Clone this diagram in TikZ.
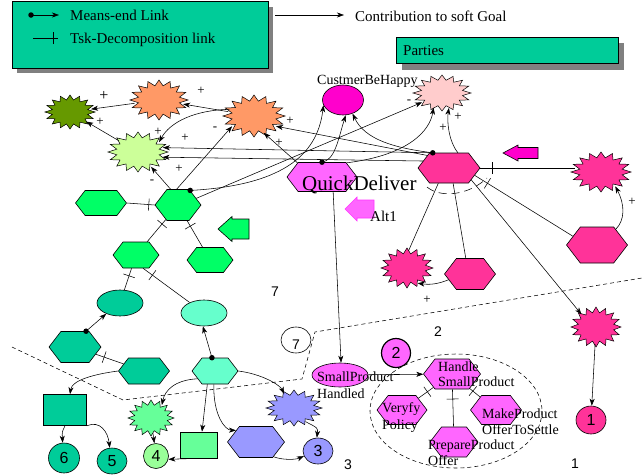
\documentclass[tikz,border=0pt]{standalone}
\usepackage{fontspec}
\setmainfont{Liberation Serif}
\newfontfamily\numfont{Liberation Sans}
\usetikzlibrary{shapes.geometric,shapes.symbols,arrows.meta,decorations.markings}

\definecolor{cTeal}{HTML}{00CC99}
\definecolor{cShadow}{HTML}{808080}
\definecolor{cOlive}{HTML}{669900}
\definecolor{cOrange}{HTML}{FF9966}
\definecolor{cPale}{HTML}{CCFF99}
\definecolor{cGreen}{HTML}{00FF66}
\definecolor{cMag}{HTML}{FF00CC}
\definecolor{cRose}{HTML}{FFCCCC}
\definecolor{cOrchid}{HTML}{FF66FF}
\definecolor{cOrchidLine}{HTML}{FF33FF}
\definecolor{cHot}{HTML}{FF3399}
\definecolor{cAqua}{HTML}{66FFCC}
\definecolor{cMint}{HTML}{66FF99}
\definecolor{cLime}{HTML}{99FF99}
\definecolor{cBlue}{HTML}{9999FF}

\tikzset{
  hexa/.style={signal, signal to=east and west, signal pointer angle=105,
    draw, inner sep=0pt, line width=0.6pt},
  oval/.style={ellipse, draw, inner sep=0pt, line width=0.6pt},
  box/.style={rectangle, draw, inner sep=0pt, line width=0.6pt},
  conn/.style={line width=0.55pt},
  contrib/.style={conn, -{Stealth[length=7pt,width=5pt,inset=2pt]}},
  decomp/.style={conn, postaction={decorate, decoration={markings,
    mark=at position #1 with {\draw[conn] (0,-6pt) -- (0,6pt);}}}},
  decomp/.default=0.5,
  medot/.style={circle, fill=black, inner sep=0pt, minimum size=5.5pt},
  txt/.style={font=\fontsize{14}{14}\selectfont, inner sep=0pt, anchor=base west},
  lbl/.style={font=\fontsize{13}{13}\selectfont, inner sep=0pt},
  digit/.style={font=\numfont\fontsize{16}{16}\selectfont},
  freedigit/.style={font=\numfont\fontsize{14}{14}\selectfont, inner sep=0pt},
  boundary/.style={line width=0.55pt, dash pattern=on 4pt off 3pt},
}

% starburst soft goal: name, x, y, x-radius, y-radius, fill colour
\newcommand\burst[6]{%
  \begin{scope}[shift={(#2,#3)}]
    \draw[fill=#6, line width=0.5pt] (0:#4 and #5)
      \foreach \k in {0,...,15}{ -- ({\k*22.5+11.25}:0.72*#4 and 0.72*#5)
                                 -- ({\k*22.5+22.5}:#4 and #5)} -- cycle;
  \end{scope}
  \node[ellipse, inner sep=0pt, minimum width=1.7pt*#4, minimum height=1.7pt*#5] (#1) at (#2,#3) {};
}
% task hexagon: name, x, y, width, height, fill colour
\newcommand\hexnode[6]{%
  \node[hexa, minimum width=#4pt, minimum height=#5pt, fill=#6] (#1) at (#2,#3) {};
}
% left-pointing block arrow: tip x, tip y, head length, head half-height, shaft half-height, total length, fill, draw
\newcommand\leftblock[8]{%
  \draw[fill=#7, draw=#8, line width=0.6pt] (#1,#2) -- ++(#3,-#4) -- ++(0,#4-#5) -- (#1+#6,#2-#5)
    -- (#1+#6,#2+#5) -- (#1+#3,#2+#5) -- (#1+#3,#2+#4) -- cycle;
}

\begin{document}
\begin{tikzpicture}[x=1pt,y=-1pt]
\fill[white] (0,0) rectangle (642,474);
\useasboundingbox (0,0) rectangle (642,474);

% ---------- legend ----------
\fill[cShadow] (17,7) rectangle (273,73);
\node[box, fill=cTeal, minimum width=256pt, minimum height=67pt, anchor=north west] (legend) at (12,1) {};
\node[medot] (ld) at (31,15) {};
\coordinate (le) at (59,15);
\draw[contrib] (ld.center) -- (le);
\node[txt, font=\fontsize{15}{15}\selectfont] (lt1) at (70,20) {Means-end Link};
\coordinate (lda) at (33,38);
\coordinate (ldb) at (58,38);
\draw[decomp=0.8] (lda) -- (ldb);
\node[txt, font=\fontsize{15}{15}\selectfont] (lt2) at (70,43) {Tsk-Decomposition link};

\coordinate (ca) at (275,15);
\coordinate (cb) at (344,15);
\draw[contrib] (ca) -- (cb);
\node[txt, font=\fontsize{15}{15}\selectfont] (lt3) at (355,21) {Contribution to soft Goal};

\fill[cShadow] (402,43) rectangle (624,70);
\node[box, fill=cTeal, minimum width=222pt, minimum height=26pt, anchor=north west] (parties) at (396,37) {};
\node[txt, font=\fontsize{15}{15}\selectfont] (ptext) at (403,55) {Parties};

% ---------- boundaries ----------
\draw[boundary] (12,347) -- (123,400) -- (302,379) -- (315,332) -- (642,278);
\draw[boundary] (456,411) ellipse [x radius=86, y radius=57];

% ---------- soft goals ----------
\burst{dg}{70}{112}{25}{17}{cOlive}
\burst{org1}{159}{100}{29}{20}{cOrange}
\burst{org2}{254}{116}{31}{21}{cOrange}
\burst{lg}{138}{152}{30}{20}{cPale}
\burst{pk}{442}{93}{29}{18}{cRose}
\burst{hp1}{601}{172}{30}{20}{cHot}
\burst{hp2}{407}{268}{26}{20}{cHot}
\burst{hp3}{596}{327}{25}{20}{cHot}
\burst{gs}{151}{418}{23}{18}{cMint}
\burst{bs}{294}{408}{28}{18}{cBlue}

% ---------- goals / resources ----------
\node[oval, fill=cMag, minimum width=41pt, minimum height=30pt] (cbh) at (343,100) {};
\node[txt] (cbht) at (317,84) {CustmerBeHappy};
\node[oval, fill=cTeal, minimum width=46pt, minimum height=26pt] (te1) at (120,303) {};
\node[oval, fill=cAqua, minimum width=46pt, minimum height=26pt] (te2) at (204,313) {};
\node[oval, fill=cOrchid, minimum width=56pt, minimum height=24pt] (sph) at (340,375) {};
\node[box, fill=cTeal, minimum width=43pt, minimum height=31pt] (tsq) at (65,410) {};
\node[box, fill=cMint, minimum width=37pt, minimum height=26pt] (lgr) at (199,445) {};

% ---------- tasks ----------
\hexnode{gh0}{101}{203}{51}{25}{cGreen}
\hexnode{gh1}{178}{205}{46}{31}{cGreen}
\hexnode{gh2}{136}{255}{46}{26}{cGreen}
\hexnode{gh3}{210}{260}{46}{25}{cGreen}
\hexnode{th1}{75}{347}{52}{31}{cTeal}
\hexnode{th2}{144}{371}{51}{26}{cTeal}
\hexnode{lth}{215}{371}{46}{26}{cAqua}
\hexnode{bh}{256}{442}{57}{31}{cBlue}
\hexnode{qd}{322}{177}{70}{29}{cOrchid}
\hexnode{ph}{449}{168}{62}{30}{cHot}
\hexnode{ph2}{597}{245}{61}{36}{cHot}
\hexnode{ph3}{470}{274}{51}{31}{cHot}
\hexnode{hs}{452}{374}{57}{30}{cOrchid}
\hexnode{vp}{402}{410}{50}{29}{cOrchid}
\hexnode{mp}{496}{410}{51}{29}{cOrchid}
\hexnode{pp}{454}{442}{48}{30}{cOrchid}

% ---------- numbered circles ----------
\node[oval, digit, fill=cTeal, minimum width=31pt, minimum height=30pt] (c6) at (64,458) {6};
\node[oval, digit, fill=cTeal, minimum width=30pt, minimum height=26pt] (c5) at (112,461) {5};
\node[oval, digit, fill=cLime, minimum width=25pt, minimum height=25pt] (c4) at (156,456) {4};
\node[oval, digit, fill=cBlue, minimum width=30pt, minimum height=26pt] (c3) at (318,451) {3};
\node[oval, fill=white, minimum width=30pt, minimum height=26pt] (c7) at (296,340) {};
\node[freedigit] (c7t) at (296,345) {7};
\node[oval, digit, fill=cOrchid, line width=1.2pt, minimum width=29pt, minimum height=29pt] (c2) at (396,353) {2};
\node[oval, digit, fill=cHot, minimum width=30pt, minimum height=28pt] (c1) at (591,420) {1};

\node[freedigit] (n7) at (275,292) {7};
\node[freedigit] (n2) at (438,332) {2};
\node[freedigit] (n3) at (348,465) {3};
\node[freedigit] (n1) at (575,464) {1};

% ---------- alternative markers ----------
\leftblock{218}{229}{14}{12.5}{10}{31}{cGreen}{black}
\leftblock{345}{209}{12}{12}{9}{29}{cOrchid}{cOrchidLine}
\leftblock{503}{153}{15}{8}{5.5}{35}{cMag}{black}

% ---------- texts ----------
\node[txt, font=\fontsize{21}{21}\selectfont] (qdt) at (302,190) {QuickDeliver};
\node[txt, font=\fontsize{15}{15}\selectfont] (alt) at (370,221) {Alt1};
\node[txt] (spt1) at (317,381) {SmallProduct};
\node[txt] (spt2) at (317,398) {Handled};
\node[txt] (hst1) at (438,371) {Handle};
\node[txt] (hst2) at (438,386) {SmallProduct};
\node[txt] (vpt1) at (382,412) {Veryfy};
\node[txt] (vpt2) at (382,429) {Policy};
\node[txt] (mpt1) at (482,418) {MakeProduct};
\node[txt] (mpt2) at (482,434) {OfferToSettle};
\node[txt] (ppt1) at (428,449) {PrepareProduct};
\node[txt] (ppt2) at (428,465) {Offer};

% ---------- means-end dots ----------
\node[medot] (gh1d) at (gh1.50) {};
\node[medot] (qdd) at (qd.90) {};
\node[medot] (phd) at (ph.137) {};
\node[medot] (th1d) at (th1.55) {};
\node[medot] (lthd) at (lth.103) {};

% ---------- contributions to soft goals ----------
\draw[contrib] (org1) -- (dg);
\draw[contrib] (lg) -- (dg);
\draw[contrib] (org2) -- (org1);
\draw[contrib] (org2.165) .. controls (195,110) and (170,122) .. (lg.25);
\draw[contrib] (gh1.115) -- (lg);
\draw[contrib] (gh1.95) -- (org2.205);
\draw[contrib] (qd.150) -- (org2.300);
\draw[contrib] (ph.150) -- (org2.335);
\draw[contrib] (phd.center) -- (lg.10);
\draw[contrib] (ph.165) -- (lg.348);
\draw[contrib] (phd.center) .. controls (395,148) and (365,140) .. (cbh.-55);
\draw[contrib] (qdd.center) .. controls (335,160) and (338,140) .. (cbh.-80);
\draw[contrib] (gh1d.center) .. controls (290,185) and (318,150) .. (cbh.195);
\draw[contrib] (gh1.20) -- (pk.205);
\draw[contrib] (qd.30) .. controls (410,155) and (430,130) .. (pk.240);
\draw[contrib] (ph.60) .. controls (448,140) and (447,120) .. (pk.295);
\draw[contrib] (ph2.40) .. controls (625,220) and (625,205) .. (hp1.315);
\draw[contrib] (ph3.195) .. controls (438,284) and (430,285) .. (hp2.305);
\draw[contrib] (ph.332) -- (hp3.139);
\draw[contrib] (hp3) -- (c1);
\draw[contrib] (qd.307) -- (sph.85);
\draw[contrib] (sph) -- (hs);

% ---------- means-end links and flows ----------
\draw[contrib] (th1d.center) -- (te1.218);
\draw[contrib] (lthd.center) -- (te2.265);
\draw[contrib] (th2.west) .. controls (95,374) and (72,380) .. ([xshift=5pt]tsq.north);
\draw[contrib] (tsq.south) .. controls (62,432) .. (c6.95);
\draw[contrib] (tsq.south east) .. controls (100,420) and (108,432) .. (c5.100);
\draw[contrib] (lth.204) .. controls (175,380) and (165,390) .. (gs.50);
\draw[contrib] (lth.240) -- ([xshift=3pt]lgr.north);
\draw[contrib] (lth.265) .. controls (213,415) and (225,430) .. (bh.150);
\draw[contrib] (lth.east) .. controls (262,374) and (280,385) .. (bs.125);
\draw[contrib] (gs) -- (c4);
\draw[contrib] (lgr.south) -- (c4.-15);
\draw[contrib] (bh.-40) .. controls (282,460) and (295,460) .. (c3.200);
\draw[contrib] (bs.-50) .. controls (318,428) .. (c3.95);

% ---------- task decompositions ----------
\draw[decomp=0.79] (gh0.east) -- (gh1.west);
\draw[decomp=0.2] (gh1) -- (gh2);
\draw[decomp=0.2] (gh1) -- (gh3);
\draw[decomp=0.35] (gh2) -- (te1);
\draw[decomp=0.2] (gh2.-62) -- (te2);
\draw[decomp=0.3] (th1) -- (th2);
\draw[decomp=0.13] (ph.east) -- (ph.east -| hp1.west);
\draw[conn] (ph.235) -- (hp2.85);
\draw[conn] (ph.285) -- (ph3.105);
\draw[decomp=0.13] (ph.344) -- (ph2.160);
\draw[boundary, dash pattern=on 8pt off 5pt] (427,187) .. controls (440,198) and (468,196) .. (487,178);
\draw[decomp=0.4] (hs) -- (vp);
\draw[decomp=0.26] (hs) -- (pp);
\draw[decomp=0.3] (hs) -- (mp);

% ---------- contribution labels ----------
\node[lbl, font=\fontsize{16}{16}\selectfont] (s1) at (104,96) {+};
\node[lbl] (s2) at (100,122) {+};
\node[lbl] (s3) at (201,91) {+};
\node[lbl] (s4) at (158,132) {+};
\node[lbl] (s5) at (185,138) {+};
\node[lbl] (s6) at (179,169) {+};
\node[lbl] (s7) at (152,182) {-};
\node[lbl] (s8) at (215,129) {-};
\node[lbl] (s9) at (290,121) {+};
\node[lbl] (s10) at (279,143) {+};
\node[lbl] (s11) at (409,102) {-};
\node[lbl] (s12) at (443,128) {+};
\node[lbl] (s13) at (458,117) {+};
\node[lbl] (s14) at (632,202) {+};
\node[lbl] (s15) at (427,300) {+};
\end{tikzpicture}
\end{document}
